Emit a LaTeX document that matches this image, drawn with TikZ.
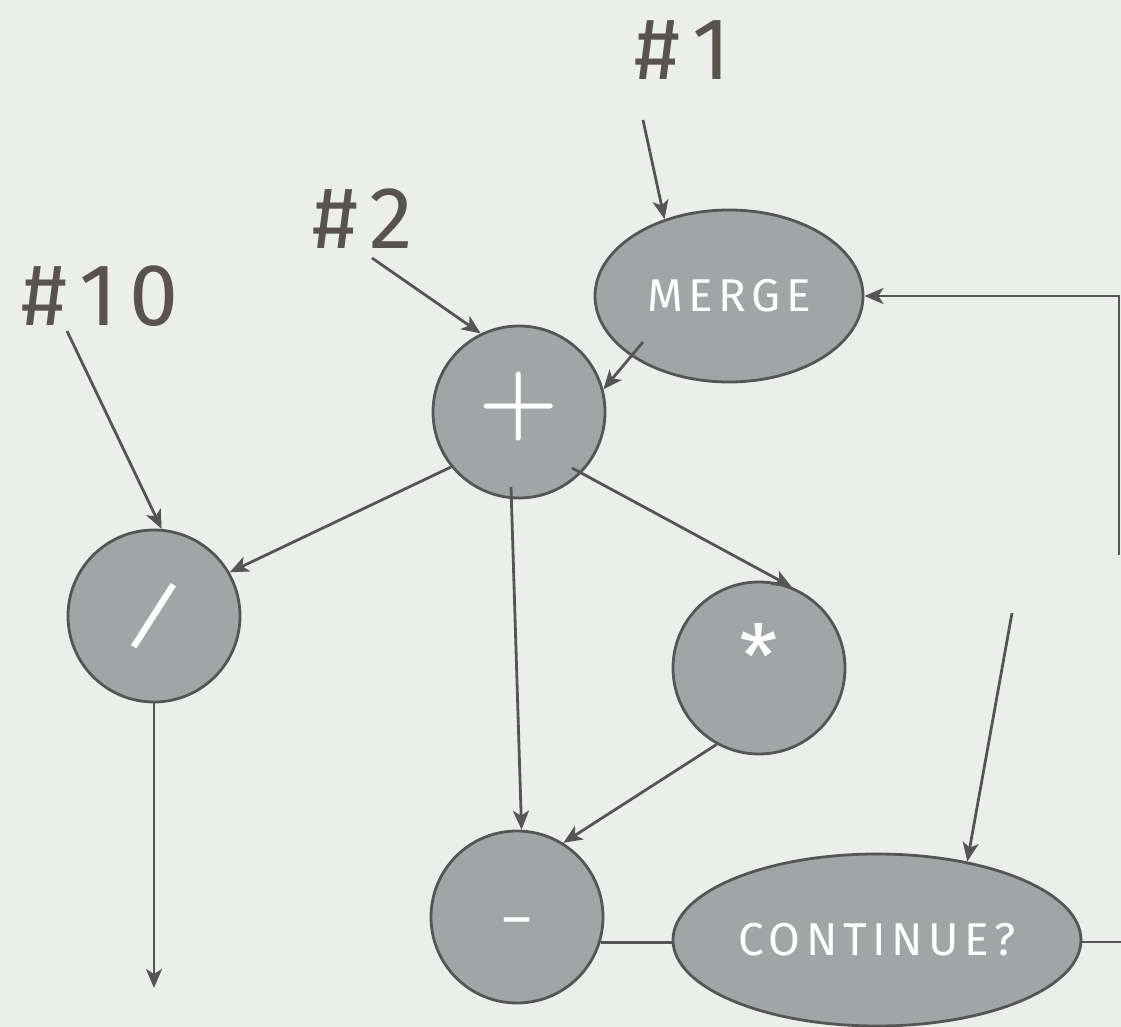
\documentclass[tikz,border=0pt]{standalone}
\usepackage{fontspec}
\setmainfont{Fira Sans}
\usetikzlibrary{shapes.geometric,arrows.meta,calc}
\definecolor{paper}{HTML}{ECEEEC}
\definecolor{ink}{HTML}{555555}
\definecolor{blob}{HTML}{A2A5A5}
\definecolor{tagink}{HTML}{58534F}
\newfontfamily\spaced[LetterSpace=12]{Fira Sans}
\newfontfamily\tagfont[LetterSpace=14]{Fira Sans}
\newfontfamily\thinglyph{Latin Modern Roman}
% glyph placed at a fixed height above the node centre
\newcommand{\glyphat}[2]{\raisebox{#1}[0pt][0pt]{#2}}

\begin{document}
\begin{tikzpicture}[x=0.5pt,y=-0.5pt,
  op/.style={circle,draw=ink,line width=1.4pt,fill=blob,minimum size=86pt,inner sep=0pt,text=white},
  oval/.style={ellipse,draw=ink,line width=1.4pt,fill=blob,inner sep=0pt,text=white,minimum height=86pt,
    font=\spaced\fontsize{23}{25}\selectfont},
  tag/.style={text=tagink,font=\tagfont\fontsize{44}{46}\selectfont},
  wire/.style={draw=ink,line width=1.4pt},
  flow/.style={wire,-{Stealth[length=9.5pt,width=8pt,inset=2.5pt]}}]

% paper
\useasboundingbox (0,0) rectangle (1121,1027);
\fill[paper] (0,0) rectangle (1121,1027);

% operator nodes
\node[oval,minimum width=134pt] (merge) at (729,296) {MERGE};
\node[op,font=\thinglyph\bfseries\fontsize{46}{48}\selectfont] (plus) at (519,412) {\glyphat{-9pt}{+}};
\node[op,font=\fontsize{40}{42}\selectfont] (div) at (154,616) {\rotatebox{-18}{/}};
\node[op,font=\fontsize{44}{46}\selectfont] (mul) at (759,668) {\glyphat{-10.5pt}{*}};
\node[op,font=\fontsize{28}{30}\selectfont] (minus) at (517,917) {\glyphat{-10pt}{–}};
\node[oval,minimum width=204pt] (cont) at (877,940) {CONTINUE?};

% input tags
\node[tag] (t1) at (683,50) {\#1};
\node[tag] (t2) at (363,219) {\#2};
\node[tag] (t10) at (100,296) {\#10};

% free ends
\coordinate (out) at (154,988);
\coordinate (edge) at (1121,942);
\coordinate (loop) at (1119,555);
\coordinate (back) at (1012,613);

% inputs
\draw[flow] ($(t1)+(-40,70)$) -- (merge.130);
\draw[flow] ($(t2)+(9,39)$) -- (plus.116);
\draw[flow] ($(t10)+(-33,35)$) -- (div.85);

% data flow
\draw[flow] ($(merge)+(-86,46)$) -- (plus.15);
\draw[flow] (plus.219) -- (div.30);
\draw[flow] ($(plus)+(-8,75)$) -- (minus.87);
\draw[flow] ($(plus)+(53,56)$) -- (mul.68);
\draw[flow] (mul.241) -- (minus.58);
\draw[flow] (div.south) -- (out);

% loop control
\draw[wire] (minus.-17) -- (minus.-17 -| cont.west);
\draw[wire] (cont.east |- edge) -- (edge);
\draw[flow] (loop) |- (merge.east);
\draw[flow] (back) -- (cont.41.5);
\end{tikzpicture}
\end{document}
